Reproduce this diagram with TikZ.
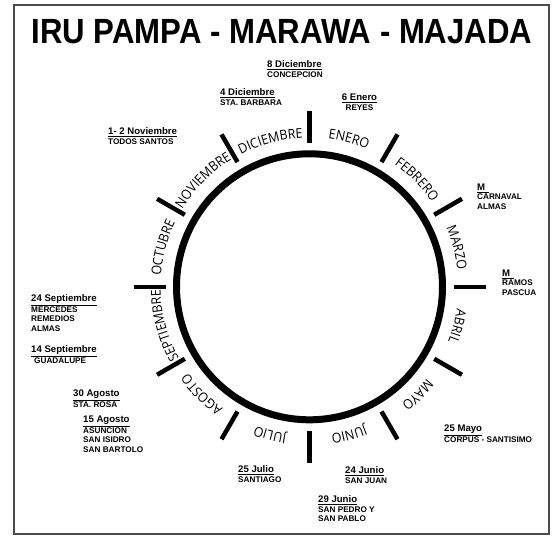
\documentclass[tikz,border=0pt]{standalone}
\usepackage{fontspec}
\setmainfont{Liberation Sans}
\newfontfamily\monthfamily[FakeStretch=0.92]{Open Sans}
\newcommand\monthfnt{\monthfamily\fontsize{13.5}{13.5}\selectfont}
\newcommand\evd[1]{{\fontsize{9.6}{9.6}\selectfont\underline{#1}}}
\usetikzlibrary{decorations.text}
\tikzset{
  frame/.style={draw=black!70, line width=2pt},
  ring/.style={draw=black, line width=7pt},
  monthtick/.style={draw=black, line width=4.5pt},
  monthlbl/.style={decorate, decoration={text along path, text align=center, text={|\monthfnt|#1}}},
  ev/.style={anchor=north west, align=left, inner sep=0pt, font=\bfseries\fontsize{8.2}{9.6}\selectfont},
  evc/.style={ev, anchor=north, align=center},
  title/.style={anchor=base, inner sep=0pt, xscale=0.89, font=\bfseries\fontsize{35}{35}\selectfont}
}
\begin{document}
\begin{tikzpicture}[x=1pt,y=1pt]
\useasboundingbox (0,0) rectangle (554,536);
\draw[frame] (14,2) rectangle (549,531);
\node[title] (title) at (282,492.5) {IRU PAMPA - MARAWA - MAJADA};
\begin{scope}[shift={(309.5,249.2)}]
  \coordinate (c) at (0,0);
  \draw[ring] (c) circle[radius=133pt];
  \foreach \a in {0,30,...,330} \draw[monthtick] (\a:144pt) -- (\a:176pt);
  \path[monthlbl=ENERO] (92:149pt) arc[start angle=92, end angle=58, radius=149pt];
  \path[monthlbl=FEBRERO] (62:149pt) arc[start angle=62, end angle=28, radius=149pt];
  \path[monthlbl=MARZO] (32:149pt) arc[start angle=32, end angle=-2, radius=149pt];
  \path[monthlbl=ABRIL] (2:149pt) arc[start angle=2, end angle=-32, radius=149pt];
  \path[monthlbl=MAYO] (-28:149pt) arc[start angle=-28, end angle=-62, radius=149pt];
  \path[monthlbl=JUNIO] (-58:149pt) arc[start angle=-58, end angle=-92, radius=149pt];
  \path[monthlbl=JULIO] (-88:149pt) arc[start angle=-88, end angle=-122, radius=149pt];
  \path[monthlbl=AGOSTO] (-118:149pt) arc[start angle=-118, end angle=-152, radius=149pt];
  \path[monthlbl=SEPTIEMBRE] (-148:149pt) arc[start angle=-148, end angle=-182, radius=149pt];
  \path[monthlbl=OCTUBRE] (182:149pt) arc[start angle=182, end angle=148, radius=149pt];
  \path[monthlbl=NOVIEMBRE] (152:149pt) arc[start angle=152, end angle=118, radius=149pt];
  \path[monthlbl=DICIEMBRE] (122:149pt) arc[start angle=122, end angle=88, radius=149pt];
\end{scope}
\node[ev] (e1) at (267,475.5) {\evd{8 Diciembre}\\CONCEPCION};
\node[ev] (e2) at (220,447.5) {\evd{4 Diciembre}\\STA. BARBARA};
\node[evc] (e3) at (359.5,442.5) {\evd{6 Enero}\\REYES};
\node[ev] (e4) at (477,352.5) {\evd{M\ \,}\\CARNAVAL\\ALMAS};
\node[ev] (e5) at (502,266.5) {\evd{M\ \,}\\RAMOS\\PASCUA};
\node[ev] (e6) at (108,408.5) {\evd{1- 2 Noviembre}\\TODOS SANTOS};
\node[ev] (e7) at (31,241.5) {\evd{24 Septiembre}\\MERCEDES\\REMEDIOS\\ALMAS};
\node[ev] (e8) at (31,190.5) {\evd{14 Septiembre}\\\hspace*{3pt}GUADALUPE};
\node[ev] (e9) at (73,146.5) {\evd{30 Agosto}\\STA. ROSA};
\node[ev] (e10) at (83,120.5) {\evd{15 Agosto}\\ASUNCION\\SAN ISIDRO\\SAN BARTOLO};
\node[ev] (e11) at (238,70.5) {\evd{25 Julio}\\SANTIAGO};
\node[ev] (e12) at (444,111.5) {\evd{25 Mayo}\\CORPUS - SANTISIMO};
\node[ev] (e13) at (345,69.5) {\evd{24 Junio}\\SAN JUAN};
\node[ev] (e14) at (318,40.5) {\evd{29 Junio}\\SAN PEDRO Y\\SAN PABLO};
\end{tikzpicture}
\end{document}
